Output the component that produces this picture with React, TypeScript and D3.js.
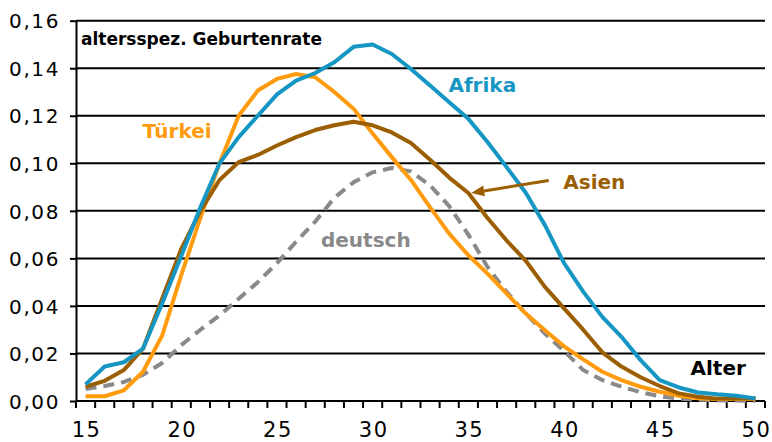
import React, { useEffect, useRef } from 'react';
import * as d3 from 'd3';

// Alter (Kategorien)
const ages = [15, 16, 17, 18, 19, 20, 21, 22, 23, 24, 25, 26, 27, 28, 29, 30, 31, 32, 33, 34, 35,
  36, 37, 38, 39, 40, 41, 42, 43, 44, 45, 46, 47, 48, 49, 50];
const xTickLabels = [15, 20, 25, 30, 35, 40, 45, 50];
const yTicks = [0, 0.02, 0.04, 0.06, 0.08, 0.10, 0.12, 0.14, 0.16];

// altersspezifische Geburtenraten
const afrika = [0.007, 0.0145, 0.0163, 0.022, 0.041, 0.061, 0.0815, 0.100, 0.111, 0.120, 0.129, 0.1348,
  0.138, 0.1425, 0.149, 0.150, 0.146, 0.1397, 0.1327, 0.1257, 0.1187, 0.109, 0.0984, 0.0876, 0.074,
  0.058, 0.046, 0.0354, 0.027, 0.0172, 0.0088, 0.0057, 0.0036, 0.0028, 0.0022, 0.0011];
const tuerkei = [0.002, 0.002, 0.0045, 0.0123, 0.0275, 0.053, 0.077, 0.100, 0.120, 0.1306, 0.1355, 0.1376,
  0.1362, 0.130, 0.123, 0.1125, 0.1026, 0.093, 0.0815, 0.0704, 0.0613, 0.0536, 0.0452, 0.0368, 0.0298,
  0.023, 0.0175, 0.0123, 0.0088, 0.006, 0.0039, 0.0022, 0.0012, 0.0008, 0.0008, 0.0008];
const asien = [0.006, 0.0085, 0.013, 0.022, 0.043, 0.064, 0.080, 0.093, 0.1005, 0.1035, 0.1075, 0.111,
  0.114, 0.116, 0.1175, 0.116, 0.113, 0.1085, 0.1015, 0.094, 0.0875, 0.077, 0.0675, 0.059, 0.048,
  0.039, 0.030, 0.0205, 0.0145, 0.010, 0.0063, 0.0032, 0.0018, 0.001, 0.001, 0.001];
const deutsch = [0.005, 0.0063, 0.008, 0.011, 0.016, 0.0235, 0.030, 0.036, 0.043, 0.050, 0.058, 0.067,
  0.0755, 0.0855, 0.092, 0.0962, 0.098, 0.0966, 0.0907, 0.082, 0.070, 0.0564, 0.0459, 0.0368, 0.0284,
  0.021, 0.013, 0.0088, 0.006, 0.0037, 0.002, 0.001, 0.0005, 0.0003, 0.0002, 0.0001];

const series = [
  { name: 'deutsch', values: deutsch, color: '#898989', dash: '11,7', label: { age: 27.3, value: 0.0648 } },
  { name: 'Türkei', values: tuerkei, color: '#FF9B0D', dash: null, label: { age: 17.98, value: 0.1105 } },
  { name: 'Asien', values: asien, color: '#9B5E02', dash: null, label: { age: 39.96, value: 0.0893 } },
  { name: 'Afrika', values: afrika, color: '#1596C3', dash: null, label: { age: 33.96, value: 0.1299 } },
];

// Pfeil zur Asien-Kurve (Datenkoordinaten)
const arrowFrom = { age: 39.2, value: 0.0928 };
const arrowTo = { age: 35.15, value: 0.0875 };

export default function App() {
  const ref = useRef<SVGSVGElement>(null);

  useEffect(() => {
    if (!ref.current) return;
    document.body.style.margin = '0';
    const svg = d3.select(ref.current);
    svg.selectAll('*').remove();

    const left = 76, right = 765, top = 20.7, bottom = 401;

    const xBand = d3.scaleBand<number>().domain(ages).range([left, right]);
    const half = xBand.bandwidth() / 2;
    const x = d3.scaleLinear()
      .domain([ages[0], ages[ages.length - 1]])
      .range([xBand(ages[0])! + half, xBand(ages[ages.length - 1])! + half]);
    const y = d3.scaleLinear().domain([0, 0.16]).range([bottom, top]);

    svg.append('rect').attr('width', 772).attr('height', 442).attr('fill', '#fff');

    // Gitterlinien
    svg.append('g').selectAll('line')
      .data(yTicks.filter(d => d > 0))
      .enter().append('line')
      .attr('x1', left).attr('x2', right)
      .attr('y1', d => y(d)).attr('y2', d => y(d))
      .attr('stroke', '#000').attr('stroke-width', 2);

    // y-Achse
    const yAxis = svg.append('g')
      .attr('transform', `translate(${left},0)`)
      .call(d3.axisLeft(y).tickValues(yTicks).tickSize(6).tickSizeOuter(0).tickPadding(10)
        .tickFormat(d => d3.format('.2f')(d as number).replace('.', ',')));
    yAxis.select('.domain').attr('stroke-width', 2);
    yAxis.selectAll('.tick line').attr('stroke-width', 2);
    yAxis.selectAll('.tick text')
      .attr('font-family', 'DejaVu Sans').attr('font-size', 20).attr('fill', '#000')
      .attr('letter-spacing', 1.6).attr('dy', '0.36em');
    yAxis.attr('font-size', null).attr('font-family', null);

    // x-Achse
    svg.append('line')
      .attr('x1', left).attr('x2', right).attr('y1', bottom).attr('y2', bottom)
      .attr('stroke', '#000').attr('stroke-width', 2);
    svg.append('g').selectAll('line')
      .data([...ages.map(a => xBand(a)!), right])
      .enter().append('line')
      .attr('x1', d => d).attr('x2', d => d)
      .attr('y1', bottom).attr('y2', bottom + 7)
      .attr('stroke', '#000').attr('stroke-width', 2);
    svg.append('g').selectAll('text')
      .data(xTickLabels)
      .enter().append('text')
      .attr('x', d => x(d) + 1)
      .attr('y', 437)
      .attr('text-anchor', 'middle')
      .attr('font-family', 'DejaVu Sans').attr('font-size', 21)
      .attr('letter-spacing', 1.5)
      .text(d => d);

    // Kurven
    const line = d3.line<number>()
      .x((_, i) => x(ages[i]))
      .y(d => y(d));

    series.forEach(s => {
      svg.append('path')
        .datum(s.values)
        .attr('fill', 'none')
        .attr('stroke', s.color)
        .attr('stroke-width', 4)
        .attr('stroke-linejoin', 'round')
        .attr('stroke-dasharray', s.dash)
        .attr('d', line);
    });

    // Beschriftungen
    series.forEach(s => {
      svg.append('text')
        .attr('x', x(s.label.age))
        .attr('y', y(s.label.value))
        .attr('font-family', 'DejaVu Sans').attr('font-weight', 'bold').attr('font-size', 20)
        .attr('fill', s.color)
        .text(s.name);
    });

    svg.append('text')
      .attr('x', left + 5).attr('y', 45)
      .attr('font-family', 'DejaVu Sans').attr('font-weight', 'bold').attr('font-size', 17)
      .text('altersspez. Geburtenrate');

    svg.append('text')
      .attr('x', x(49.5)).attr('y', y(0.011))
      .attr('text-anchor', 'end')
      .attr('font-family', 'DejaVu Sans').attr('font-weight', 'bold').attr('font-size', 20)
      .text('Alter');

    // Pfeil
    const brown = series.find(s => s.name === 'Asien')!.color;
    const x0 = x(arrowFrom.age), y0 = y(arrowFrom.value);
    const x1 = x(arrowTo.age), y1 = y(arrowTo.value);
    const ang = Math.atan2(y1 - y0, x1 - x0);
    const headLen = 13, headW = 5.5;
    const bx = x1 - headLen * Math.cos(ang), by = y1 - headLen * Math.sin(ang);
    svg.append('line')
      .attr('x1', x0).attr('y1', y0).attr('x2', bx).attr('y2', by)
      .attr('stroke', brown).attr('stroke-width', 3);
    svg.append('path')
      .attr('d', `M${x1},${y1}L${bx - headW * Math.sin(ang)},${by + headW * Math.cos(ang)}L${bx + headW * Math.sin(ang)},${by - headW * Math.cos(ang)}Z`)
      .attr('fill', brown);
  }, []);

  return (
    <svg ref={ref} width={772} height={442} style={{ display: 'block' }} />
  );
}
